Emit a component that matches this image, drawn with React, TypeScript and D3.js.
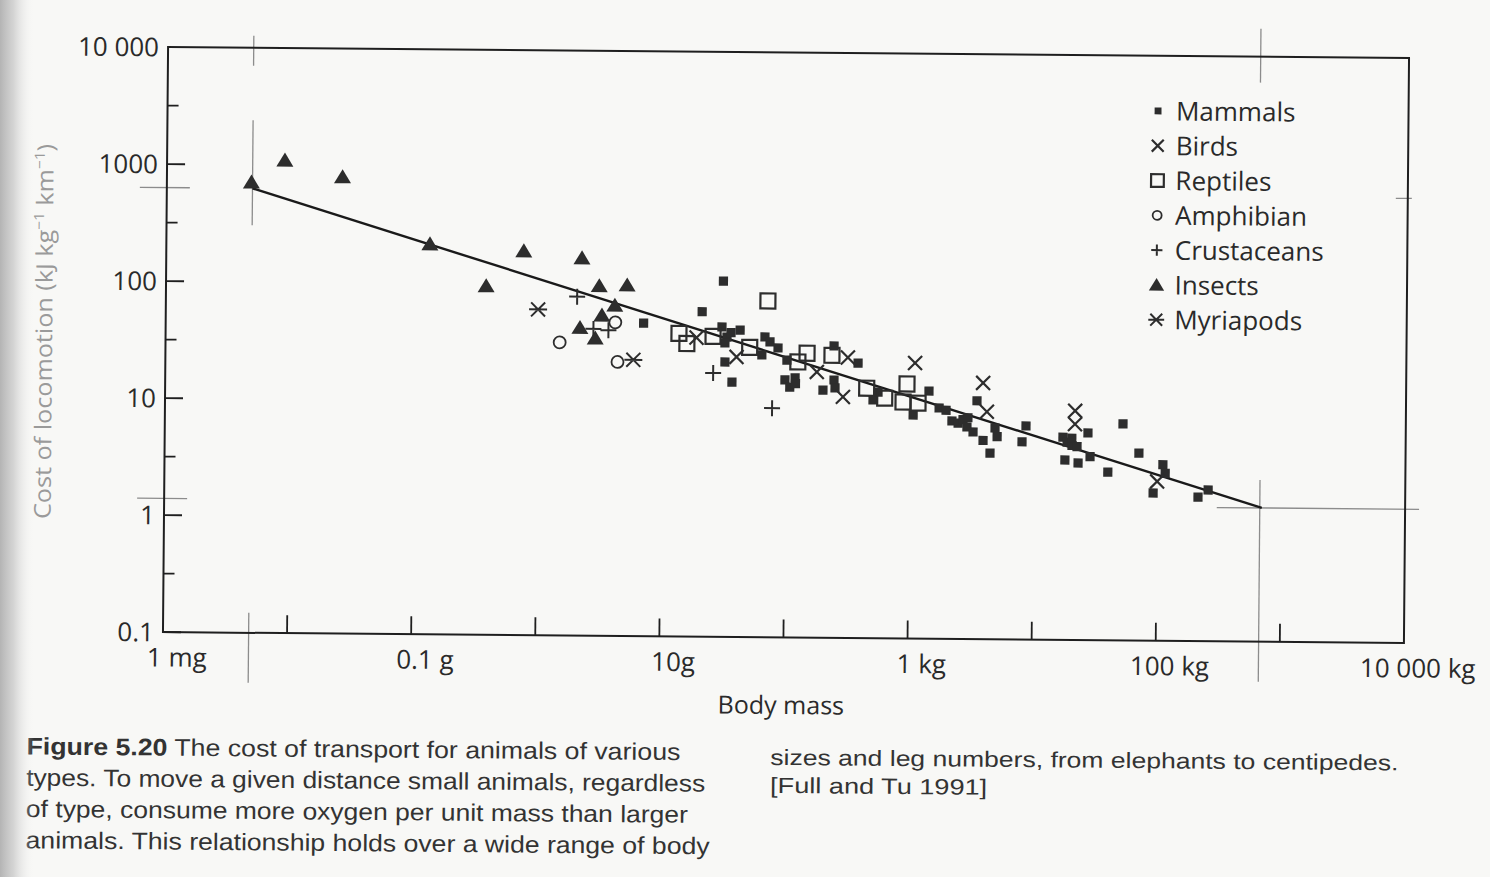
import React from 'react';
import * as d3 from 'd3';

const W = 1490;
const H = 877;

// plot frame before the scan tilt is applied
const plot = { left: 165.5, right: 1406.5, top: 52.5, bottom: 637.5 };
// the scanned page is turned a little clockwise
const tilt = 0.5;
const tiltCx = 786;
const tiltCy = 345;

const ink = '#2d2d2d';
const labelFont = "'Open Sans', 'Noto Sans', sans-serif";
const captionFont = "'Liberation Sans Narrow', 'Liberation Sans', Arial, sans-serif";

const yTickValues = [0.1, 1, 10, 100, 1000, 10000];
const yTickLabels = ['0.1', '1', '10', '100', '1000', '10 000'];
const xTickValues = [1e-5, 1e-4, 1e-3, 1e-2, 1e-1, 1, 10, 100, 1000];
const xLabelValues = [1e-6, 1e-4, 1e-2, 1, 100, 10000];
const xLabels = ['1 mg', '0.1 g', '10g', '1 kg', '100 kg', '10 000 kg'];

// [body mass (kg), cost of locomotion (kJ kg-1 km-1)]
const mammals = [
  [0.0071, 47.5], [0.031, 110], [0.021, 60], [0.0304, 44.6], [0.0334, 36.6],
  [0.0322, 32.6], [0.0426, 42], [0.0323, 22.4], [0.0369, 15.1], [0.036, 40],
  [0.0676, 36.9], [0.0743, 33.5], [0.064, 25.9], [0.0863, 29.8], [0.102, 23.5],
  [0.0986, 15.9], [0.119, 16.6], [0.108, 13.8], [0.12, 14.8], [0.244, 31.3],
  [0.382, 22.4], [0.2, 13.1], [0.245, 16], [0.25, 13.7], [0.507, 10.9],
  [0.556, 12.7], [1.43, 13.1], [1.07, 8.15], [1.73, 9.4], [1.97, 9.0],
  [2.2, 7.3], [2.47, 7.0], [2.7, 7.5], [2.96, 7.8], [2.91, 6.5], [3.26, 5.9],
  [3.93, 5.0], [4.48, 3.9], [3.49, 10.9], [4.9, 6.4], [5.1, 5.4], [8.7, 6.7],
  [8.1, 4.9], [17.3, 5.4], [18.7, 4.9], [20.5, 4.6], [22.5, 4.5], [20.4, 5.3],
  [27.5, 5.9], [52.6, 7.1], [18, 3.45], [23, 3.26], [28.7, 3.7], [40, 2.74],
  [71, 4.0], [111, 3.2], [116, 2.7], [93, 1.83], [214, 1.7], [258, 1.96],
];
const birds = [
  [0.019, 36], [0.04, 24.8], [0.178, 18.7], [0.316, 25], [0.29, 11.5],
  [1.1, 22.7], [3.9, 15.5], [4.2, 8.8], [21.6, 9.1], [21.6, 7.0], [100, 2.3],
];
const reptiles = [
  [0.071, 75], [0.0137, 39], [0.0159, 32], [0.0258, 37], [0.051, 30],
  [0.148, 27], [0.125, 22.7], [0.235, 26], [0.45, 13.7], [0.63, 11.3],
  [0.95, 15], [0.885, 10.5], [1.17, 10.3],
];
const amphibians = [[0.0042, 48], [0.0015, 32], [0.0044, 22]];
const crustaceans = [[0.00206, 79], [0.0028, 42], [0.0037, 41], [0.026, 18], [0.078, 9.1]];
const insects = [
  [4.8e-6, 710], [8.9e-6, 1100], [2.6e-5, 800], [1.33e-4, 217], [3.8e-4, 96],
  [7.6e-4, 192], [2.24e-3, 169], [3.1e-3, 98], [5.2e-3, 100], [4.15e-3, 67],
  [3.27e-3, 55], [2.18e-3, 43], [2.9e-3, 35],
];
const myriapods = [[1.0e-3, 61], [5.9e-3, 23]];

// fitted line, end points
const fitLine = [[4.9e-6, 630], [700, 1.39]];

const groups = [
  { kind: 'mammal', name: 'Mammals', data: mammals },
  { kind: 'bird', name: 'Birds', data: birds },
  { kind: 'reptile', name: 'Reptiles', data: reptiles },
  { kind: 'amphibian', name: 'Amphibian', data: amphibians },
  { kind: 'crustacean', name: 'Crustaceans', data: crustaceans },
  { kind: 'insect', name: 'Insects', data: insects },
  { kind: 'myriapod', name: 'Myriapods', data: myriapods },
];

const captionLeft = [
  { bold: 'Figure 5.20', text: ' The cost of transport for animals of various', len: 654 },
  { bold: '', text: 'types. To move a given distance small animals, regardless', len: 679 },
  { bold: '', text: 'of type, consume more oxygen per unit mass than larger', len: 662 },
  { bold: '', text: 'animals. This relationship holds over a wide range of body', len: 684 },
];
const captionRight = [
  { text: 'sizes and leg numbers, from elephants to centipedes.', len: 628 },
  { text: '[Full and Tu 1991]', len: 217 },
];

const Marker = ({ kind, cx, cy, k = 1 }) => {
  if (kind === 'mammal') {
    const a = 4.6 * k;
    return <rect x={cx - a} y={cy - a} width={2 * a} height={2 * a} fill={ink} />;
  }
  if (kind === 'bird') {
    const a = 7 * k;
    return <path d={`M${cx - a},${cy - a}L${cx + a},${cy + a}M${cx - a},${cy + a}L${cx + a},${cy - a}`}
      stroke={ink} strokeWidth={2.2} fill="none" />;
  }
  if (kind === 'reptile') {
    const a = 7.5 * k;
    return <rect x={cx - a} y={cy - a} width={2 * a} height={2 * a} fill="none" stroke={ink} strokeWidth={2.2} />;
  }
  if (kind === 'amphibian') {
    return <circle cx={cx} cy={cy} r={6 * k} fill="none" stroke={ink} strokeWidth={1.8} />;
  }
  if (kind === 'crustacean') {
    const a = 8 * k;
    return <path d={`M${cx - a},${cy}L${cx + a},${cy}M${cx},${cy - a}L${cx},${cy + a}`}
      stroke={ink} strokeWidth={2} fill="none" />;
  }
  if (kind === 'insect') {
    const w = 8.5 * k, h = 14 * k;
    return <path d={`M${cx - w},${cy + h * 0.45}L${cx + w},${cy + h * 0.45}L${cx},${cy - h * 0.55}Z`} fill={ink} />;
  }
  // myriapod
  const a = 7 * k;
  return <path d={`M${cx - a},${cy - a}L${cx + a},${cy + a}M${cx - a},${cy + a}L${cx + a},${cy - a}M${cx - a - 2},${cy}L${cx + a + 2},${cy}`}
    stroke={ink} strokeWidth={2} fill="none" />;
};

const legendK = { mammal: 0.75, bird: 0.85, reptile: 0.85, amphibian: 0.75, crustacean: 0.7, insect: 0.9, myriapod: 0.85 };

export default function App() {
  const x = d3.scaleLog().domain([1e-6, 1e4]).range([plot.left, plot.right]);
  const y = d3.scaleLog().domain([0.1, 10000]).range([plot.bottom, plot.top]);
  const line = d3.line().x(d => x(d[0])).y(d => y(d[1]));

  const minorY = d3.pairs(yTickValues).map(([a, b]) => Math.sqrt(a * b));

  const [p0, p1] = fitLine;
  const sx = x(p0[0]), sy = y(p0[1]);
  const ex = x(p1[0]), ey = y(p1[1]);

  const reg = '#8c8c8c';

  return (
    <svg width={W} height={H} style={{ position: 'absolute', left: 0, top: 0, display: 'block' }}>
      <defs>
        <linearGradient id="gutter" x1="0" x2="1" y1="0" y2="0">
          <stop offset="0" stopColor="#b4b4b4" stopOpacity="1" />
          <stop offset="0.4" stopColor="#c8c8c8" stopOpacity="0.75" />
          <stop offset="1" stopColor="#f4f4f4" stopOpacity="0" />
        </linearGradient>
      </defs>
      <rect x={0} y={0} width={W} height={H} fill="#f8f8f6" />

      <g transform={`rotate(${tilt},${tiltCx},${tiltCy})`}>
        {/* registration marks at the ends of the fit */}
        <g stroke={reg} strokeWidth={1.3}>
          <line x1={sx} x2={sx} y1={plot.top - 12} y2={plot.top + 18} />
          <line x1={sx} x2={sx} y1={sy - 68} y2={sy + 37} />
          <line x1={sx} x2={sx} y1={plot.bottom - 20} y2={plot.bottom + 50} />
          <line x1={plot.left - 27} x2={plot.left + 23} y1={sy} y2={sy} />
          <line x1={plot.left - 27} x2={plot.left + 23} y1={ey} y2={ey} />
          <line x1={plot.right - 12} x2={plot.right + 4} y1={sy} y2={sy} />
          <line x1={ex - 5} x2={ex - 5} y1={plot.top - 28} y2={plot.top + 26} />
          <line x1={ex - 2} x2={ex - 2} y1={ey - 28} y2={plot.bottom + 40} />
          <line x1={ex - 45} x2={plot.right + 14} y1={ey} y2={ey} />
        </g>

        <rect x={plot.left} y={plot.top} width={plot.right - plot.left} height={plot.bottom - plot.top}
          fill="none" stroke="#1f1f1f" strokeWidth={2} />

        {/* y ticks */}
        {yTickValues.slice(0, -1).map(v => (
          <line key={'yt' + v} x1={plot.left} x2={plot.left + 18} y1={y(v)} y2={y(v)} stroke="#1f1f1f" strokeWidth={1.8} />
        ))}
        {minorY.map(v => (
          <line key={'ym' + v} x1={plot.left} x2={plot.left + 11} y1={y(v)} y2={y(v)} stroke="#1f1f1f" strokeWidth={1.8} />
        ))}
        {yTickValues.map((v, i) => (
          <text key={'yl' + v} x={plot.left - 9} y={y(v)} dy="0.36em" textAnchor="end"
            fontFamily={labelFont} fontSize={26} fill="#2a2a2a">{yTickLabels[i]}</text>
        ))}

        {/* x ticks */}
        {xTickValues.map(v => (
          <line key={'xt' + v} x1={x(v)} x2={x(v)} y1={plot.bottom} y2={plot.bottom - 18} stroke="#1f1f1f" strokeWidth={1.8} />
        ))}
        {xLabelValues.map((v, i) => (
          <text key={'xl' + v} x={x(v) + 14} y={672} textAnchor="middle"
            fontFamily={labelFont} fontSize={26} fill="#2a2a2a">{xLabels[i]}</text>
        ))}

        <text x={784} y={714} textAnchor="middle" fontFamily={labelFont} fontSize={25} fill="#2a2a2a">Body mass</text>

        <text transform="translate(44,338) rotate(-90)" textAnchor="middle" dy="0.35em"
          fontFamily={labelFont} fontSize={23} fill="#9a9a9a" textLength={375} lengthAdjust="spacingAndGlyphs">
          Cost of locomotion (kJ kg<tspan fontSize={14} dy={-9}>−1</tspan><tspan dy={9}> km</tspan><tspan fontSize={14} dy={-9}>−1</tspan><tspan dy={9}>)</tspan>
        </text>

        {/* fitted line */}
        <path d={line(fitLine)} fill="none" stroke="#1a1a1a" strokeWidth={2.4} />

        {/* points */}
        {groups.map(g => (
          <g key={g.kind}>
            {g.data.map((d, i) => <Marker key={i} kind={g.kind} cx={x(d[0])} cy={y(d[1])} />)}
          </g>
        ))}

        {/* legend */}
        {groups.map((g, i) => {
          const ly = 107.7 + i * 34.8;
          return (
            <g key={'lg' + g.kind}>
              <Marker kind={g.kind} cx={1156} cy={ly} k={legendK[g.kind]} />
              <text x={1174} y={ly} dy="0.36em" fontFamily={labelFont} fontSize={26} fill="#2a2a2a">{g.name}</text>
            </g>
          );
        })}

        {/* caption */}
        {captionLeft.map((c, i) => (
          <text key={'cl' + i} x={30} y={761 + i * 31.3} fontFamily={captionFont} fontSize={24} fill="#333"
            textLength={c.len} lengthAdjust="spacingAndGlyphs">
            {c.bold ? <tspan fontWeight="bold">{c.bold}</tspan> : null}{c.text}
          </text>
        ))}
        {captionRight.map((c, i) => (
          <text key={'cr' + i} x={774} y={765 + i * 28} fontFamily={captionFont} fontSize={22} fill="#333"
            textLength={c.len} lengthAdjust="spacingAndGlyphs">{c.text}</text>
        ))}
      </g>

      <rect x={0} y={0} width={34} height={H} fill="url(#gutter)" />
    </svg>
  );
}
